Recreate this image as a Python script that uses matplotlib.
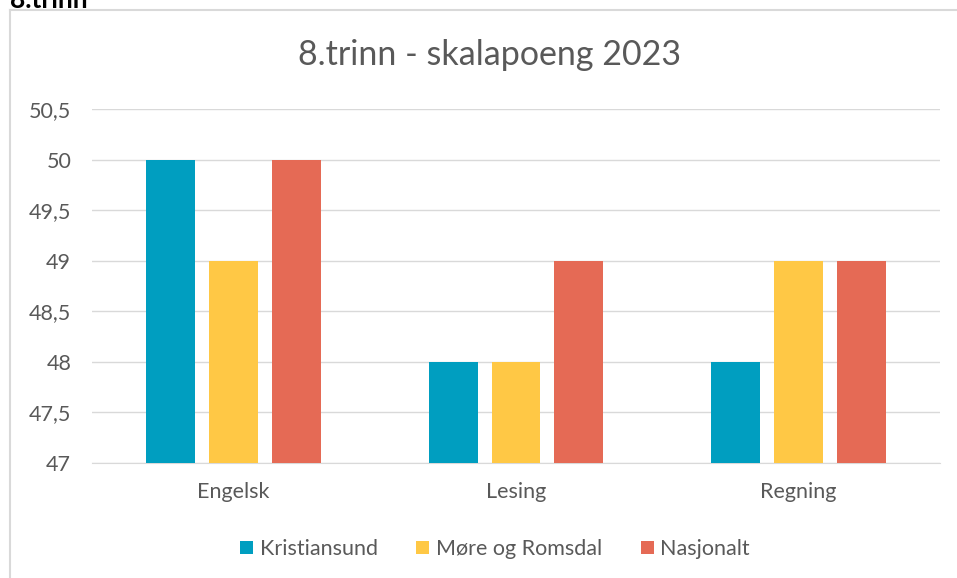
import numpy as np
import matplotlib
matplotlib.use('Agg')
import matplotlib.pyplot as plt
from matplotlib.lines import Line2D

plt.rcParams['font.family'] = ['Lato', 'DejaVu Sans']

categories = ['Engelsk', 'Lesing', 'Regning']
series_names = ['Kristiansund', 'Møre og Romsdal', 'Nasjonalt']
kristiansund = [50, 48, 48]
more_romsdal = [49, 48, 49]
nasjonalt = [50, 49, 49]
colors = ['#009EC0', '#FFC845', '#E56A55']
yticks = [47, 47.5, 48, 48.5, 49, 49.5, 50, 50.5]

fig = plt.figure(figsize=(9.57, 5.78), dpi=100)
ax = fig.add_axes([92/957, 1 - 463/578, 848/957, 354/578])

x = np.arange(len(categories))
width = 0.173
step = 0.222
for i, (vals, name) in enumerate(zip([kristiansund, more_romsdal, nasjonalt], series_names)):
    ax.bar(x + (i - 1) * step, np.array(vals) - 47, width, bottom=47,
           color=colors[i], label=name, zorder=3)

ax.set_xlim(-0.5, 2.5)
ax.set_ylim(47, 50.5)
ax.set_yticks(yticks)
ax.set_yticklabels([('%g' % t).replace('.', ',') for t in yticks])
ax.set_xticks(x)
ax.set_xticklabels(categories)
ax.tick_params(axis='both', length=0, labelsize=15.5, colors='#595959')
ax.tick_params(axis='y', pad=15)
ax.tick_params(axis='x', pad=14)
ax.grid(axis='y', color='#D9D9D9', lw=1, zorder=0)
for s in ['top', 'right', 'left']:
    ax.spines[s].set_visible(False)
ax.spines['bottom'].set_color('#D9D9D9')

fig.text(490/957, 1 - 55/578, '8.trinn - skalapoeng 2023', ha='center', va='center',
         fontsize=24.5, color='#595959')

ax.legend(loc='center', bbox_to_anchor=(495/957, 1 - 549/578), bbox_transform=fig.transFigure,
          ncol=3, frameon=False, fontsize=15.5, handlelength=0.6, handleheight=0.6,
          handletextpad=0.3, columnspacing=1.8, labelcolor='#595959')

# chart border and cropped heading (cut off at the top, as in the source)
fig.add_artist(Line2D([10/957, 10/957], [0, 1 - 10/578], color='#D9D9D9', lw=1.5))
fig.add_artist(Line2D([10/957, 1], [1 - 10/578, 1 - 10/578], color='#D9D9D9', lw=1.5))
fig.text(10/957, 1 + 12/578, '8.trinn', ha='left', va='top', fontsize=19,
         fontweight='bold', color='black')

fig.savefig('out.png', dpi=100)
